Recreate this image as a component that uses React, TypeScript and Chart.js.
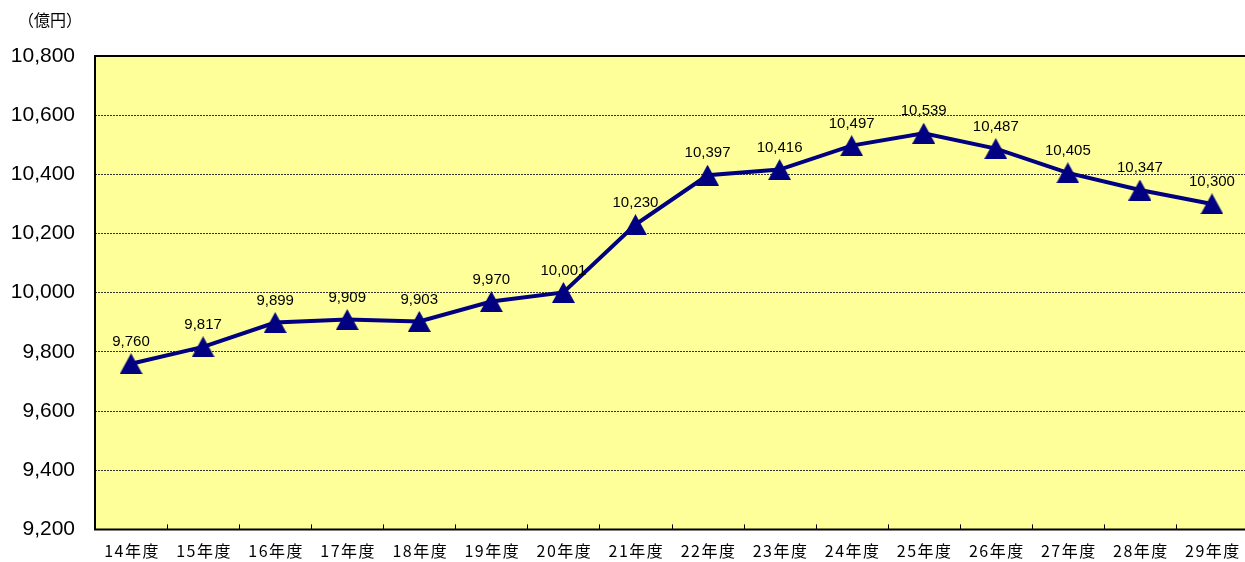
import React, { useEffect, useRef } from "react";
import { Chart, registerables } from "chart.js";

Chart.register(...registerables);

const categories = ["14年度", "15年度", "16年度", "17年度", "18年度", "19年度", "20年度", "21年度", "22年度", "23年度", "24年度", "25年度", "26年度", "27年度", "28年度", "29年度"];
const values = [9760, 9817, 9899, 9909, 9903, 9970, 10001, 10230, 10397, 10416, 10497, 10539, 10487, 10405, 10347, 10300];
const yMin = 9200;
const yMax = 10800;
const yStep = 200;
const unitLabel = "（億円）";

const fmt = (v: number) => v.toLocaleString("en-US");

function makeTriangle(): HTMLCanvasElement {
  const c = document.createElement("canvas");
  c.width = 23;
  c.height = 21;
  const g = c.getContext("2d")!;
  g.fillStyle = "#000080";
  g.beginPath();
  g.moveTo(11.5, 0);
  g.lineTo(23, 21);
  g.lineTo(0, 21);
  g.closePath();
  g.fill();
  return c;
}

const framePlugin = {
  id: "frame",
  beforeDatasetsDraw(chart: any) {
    const { ctx, chartArea } = chart;
    ctx.save();
    ctx.strokeStyle = "#000";
    ctx.lineWidth = 2;
    ctx.beginPath();
    ctx.moveTo(chartArea.right + 2, chartArea.top);
    ctx.lineTo(chartArea.left, chartArea.top);
    ctx.lineTo(chartArea.left, chartArea.bottom);
    ctx.lineTo(chartArea.right + 2, chartArea.bottom);
    ctx.stroke();
    const xs = chart.scales.x;
    ctx.lineWidth = 1;
    ctx.beginPath();
    for (let i = 1; i < categories.length; i++) {
      const x = Math.round((xs.getPixelForValue(i - 1) + xs.getPixelForValue(i)) / 2) + 0.5;
      ctx.moveTo(x, chartArea.bottom);
      ctx.lineTo(x, chartArea.bottom - 5);
    }
    ctx.stroke();
    ctx.restore();
  },
  afterDraw(chart: any) {
    const { ctx, chartArea } = chart;
    const xs = chart.scales.x;
    ctx.save();
    ctx.fillStyle = "#000";
    ctx.textBaseline = "middle";
    ctx.textAlign = "center";
    ctx.font = '16px "Noto Sans CJK JP"';
    try { (ctx as any).letterSpacing = "1.5px"; } catch (e) {}
    categories.forEach((c, i) => {
      ctx.fillText(c, xs.getPixelForValue(i) + 1, chartArea.bottom + 22);
    });
    try { (ctx as any).letterSpacing = "0px"; } catch (e) {}
    ctx.font = '16px "Noto Sans CJK JP"';
    ctx.textAlign = "center";
    ctx.fillText(unitLabel, 50, 20);
    const meta = chart.getDatasetMeta(0);
    ctx.font = '15px "Liberation Sans"';
    ctx.textAlign = "center";
    meta.data.forEach((pt: any, i: number) => {
      ctx.fillText(fmt(values[i]), pt.x, pt.y - 22);
    });
    ctx.restore();
  },
};

export default function App() {
  const ref = useRef<HTMLCanvasElement>(null);
  useEffect(() => {
    if (!ref.current) return;
    const tri = makeTriangle();
    const chart = new Chart(ref.current, {
      type: "line",
      data: {
        labels: categories,
        datasets: [
          {
            data: values,
            borderColor: "#000080",
            backgroundColor: "#000080",
            borderWidth: 4,
            tension: 0,
            pointStyle: tri,
            pointRadius: 12,
            clip: false,
          },
        ],
      },
      options: {
        responsive: false,
        animation: false,
        layout: { autoPadding: false, padding: { left: 0, top: 56, right: 4, bottom: 0 } },
        plugins: { legend: { display: false }, tooltip: { enabled: false } },
        scales: {
          x: {
            offset: true,
            grid: { display: false },
            border: { display: false },
            ticks: { display: false },
            afterFit: (s: any) => { s.height = 32; },
          },
          y: {
            min: yMin,
            max: yMax,
            ticks: {
              stepSize: yStep,
              padding: 20,
              color: "#000",
              font: { family: "Liberation Sans", size: 21 },
              callback: (v: any) => fmt(Number(v)),
            },
            grid: {
              drawTicks: false,
              color: (c: any) => (c.tick && (c.tick.value === yMin || c.tick.value === yMax) ? "rgba(0,0,0,0)" : "#333"),
              lineWidth: 1,
            },
            border: { display: false, dash: [2, 1] },
            afterFit: (s: any) => { s.width = 95; },
          },
        },
      },
      plugins: [
        {
          id: "bg",
          beforeDraw(chart: any) {
            const { ctx, chartArea } = chart;
            ctx.save();
            ctx.fillStyle = "#FFFF99";
            ctx.fillRect(chartArea.left, chartArea.top, chartArea.right - chartArea.left + 4, chartArea.bottom - chartArea.top);
            ctx.restore();
          },
        },
        framePlugin,
      ],
    } as any);
    return () => chart.destroy();
  }, []);
  return (
    <div style={{ position: "fixed", left: 0, top: 0, width: 1245, height: 562, overflow: "hidden", background: "#fff" }}>
      <canvas ref={ref} width={1252} height={562} style={{ display: "block" }} />
    </div>
  );
}
